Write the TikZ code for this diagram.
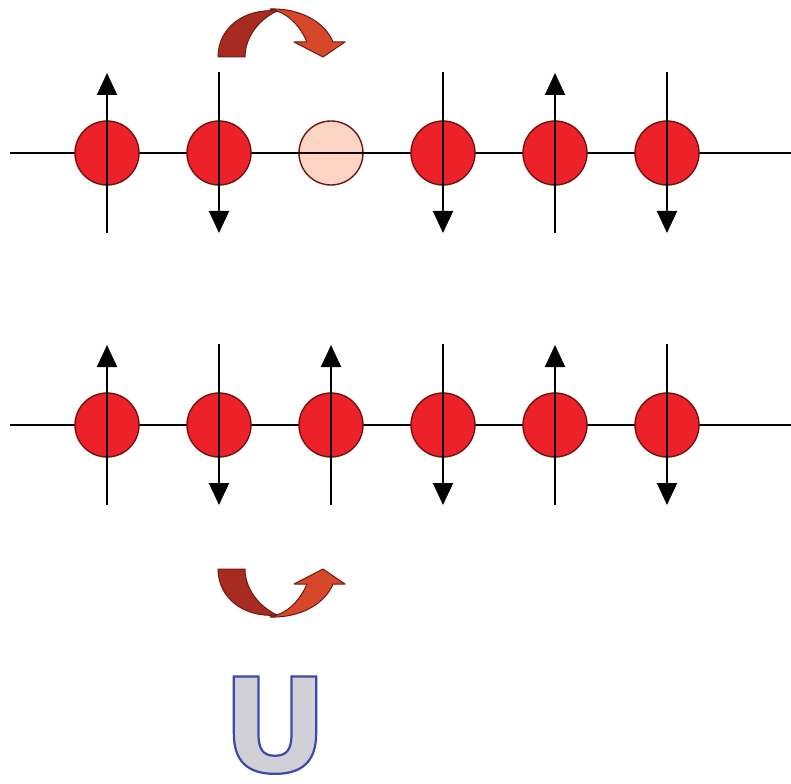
\documentclass[tikz,border=0pt]{standalone}
\usepackage{fontspec}
\newfontfamily\ufont{DejaVu Sans}[BoldFont={DejaVu Sans Bold}]
\usetikzlibrary{arrows.meta,calc}
\definecolor{sitered}{HTML}{ED2228}
\definecolor{siteedge}{HTML}{6E1414}
\definecolor{holefill}{HTML}{FCD4C3}
\definecolor{hopdark}{HTML}{A82B22}
\definecolor{hoplight}{HTML}{D7482B}
\definecolor{hopedge}{HTML}{6E1A12}
\definecolor{ugrey}{HTML}{D0D0D6}
\tikzset{
  site/.style={circle, minimum size=64pt, inner sep=0pt, draw=siteedge, fill=sitered, line width=1.4pt},
  hole/.style={site, fill=holefill},
  chain/.style={line width=1.6pt, black},
  holeline/.style={line width=1.6pt, black!85!siteedge},
  spin/.style={line width=2pt, black, -{Triangle[width=20pt,length=22pt]}},
  hopL/.style={fill=hopdark, draw=hopedge, line width=1pt, line join=round},
  hopR/.style={fill=hoplight, draw=hopedge, line width=1pt, line join=round},
}
\begin{document}
\begin{tikzpicture}[x=1pt,y=-1pt]
\useasboundingbox (0,0) rectangle (791,783);
% chains
\coordinate (r1l) at (10,153); \coordinate (r1r) at (791,153);
\coordinate (r2l) at (10,425); \coordinate (r2r) at (791,425);
\draw[chain] (r1l) -- (r1r);
\draw[chain] (r2l) -- (r2r);
% row 1
\node[site] (a1) at (107,153) {};
\node[site] (a2) at (219,153) {};
\node[hole] (a3) at (331,153) {};
\node[site] (a4) at (443,153) {};
\node[site] (a5) at (555,153) {};
\node[site] (a6) at (667,153) {};
\draw[holeline] (a3.west) -- (a3.east);
% row 2
\node[site] (b1) at (107,425) {};
\node[site] (b2) at (219,425) {};
\node[site] (b3) at (331,425) {};
\node[site] (b4) at (443,425) {};
\node[site] (b5) at (555,425) {};
\node[site] (b6) at (667,425) {};
% spins
\foreach \n in {a1,a5,b1,b3,b5}{
  \draw[spin] ($(\n.center)+(0,80)$) -- ($(\n.center)+(0,-80)$);
}
\foreach \n in {a2,a4,a6,b2,b4,b6}{
  \draw[spin] ($(\n.center)+(0,-81)$) -- ($(\n.center)+(0,80)$);
}
% top hopping arrow
\path[hopR] (270,9) .. controls (300,8) and (325,22) .. (333,42) -- (345,42) -- (323,57) -- (294,42) -- (307,42) .. controls (301,28) and (291,16) .. (277,11) -- cycle;
\path[hopL] (218,57) .. controls (218,28) and (244,8) .. (277,11) .. controls (258,20) and (245,38) .. (245,57) -- cycle;
% bottom hopping arrow
\path[hopR] (270,617) .. controls (300,618) and (325,604) .. (333,584) -- (345,584) -- (323,569) -- (294,584) -- (307,584) .. controls (301,598) and (291,610) .. (277,615) -- cycle;
\path[hopL] (218,569) .. controls (218,598) and (244,618) .. (277,615) .. controls (258,606) and (245,588) .. (245,569) -- cycle;
% U
\node[anchor=base, inner sep=0pt, font=\ufont\bfseries\fontsize{131}{131}\selectfont, text=ugrey] (U) at (275,772) {\special{pdf:literal direct 0.23 0.29 0.66 RG 2 Tr 2.2 w}U\special{pdf:literal direct 0 Tr}};
\end{tikzpicture}
\end{document}
